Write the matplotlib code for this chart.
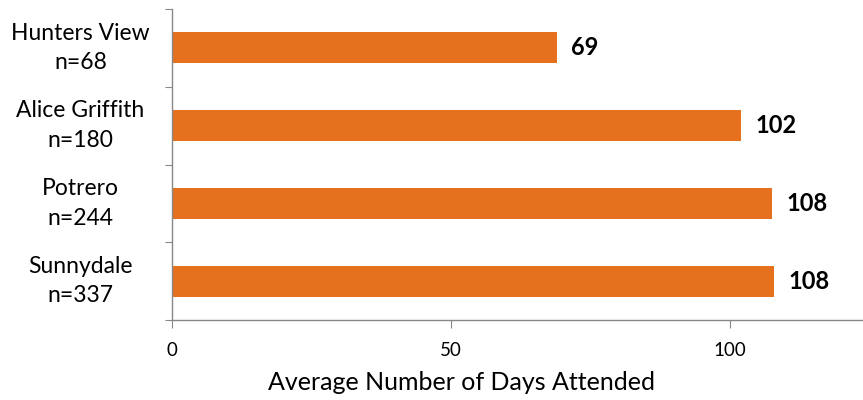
import matplotlib.pyplot as plt

sites = ["Hunters View\nn=68", "Alice Griffith\nn=180", "Potrero\nn=244", "Sunnydale\nn=337"]
avg_days = [69, 102, 107.6, 108]
value_labels = ["69", "102", "108", "108"]
x_ticks = [0, 50, 100]

plt.rcParams['font.family'] = ['Lato', 'DejaVu Sans']

fig = plt.figure(figsize=(8.63, 4.0), dpi=100)
ax = fig.add_axes([0.1993, 0.2, 0.7995, 0.7775])

ypos = list(range(len(sites)))
ax.barh(ypos, avg_days, height=0.4, color="#E5711E")
ax.set_ylim(len(sites) - 0.5, -0.5)
ax.set_xlim(0, 123.7)

for y, v, lab in zip(ypos, avg_days, value_labels):
    ax.text(v + 2.6, y, lab, va="center", ha="left", fontsize=17, fontweight="bold")

ax.set_yticks([i + 0.5 for i in range(-1, len(sites))], minor=False)
ax.set_yticklabels([])
ax.set_yticks(ypos, minor=True)
ax.set_yticklabels(sites, minor=True, fontsize=16.5, ha="center", va="center",
                   multialignment="center", linespacing=1.5)
ax.tick_params(axis="y", which="minor", length=0, pad=66)
ax.tick_params(axis="y", which="major", length=5, color="#888888", direction="out")

ax.set_xticks(x_ticks)
ax.tick_params(axis="x", length=6, color="#888888", labelsize=13.5, pad=10)
ax.set_xlabel("Average Number of Days Attended", fontsize=18)
ax.xaxis.set_label_coords(0.42, -0.165)

for s in ["top", "right"]:
    ax.spines[s].set_visible(False)
for s in ["left", "bottom"]:
    ax.spines[s].set_color("#888888")
    ax.spines[s].set_linewidth(1.0)

fig.savefig("out.png", dpi=100)
